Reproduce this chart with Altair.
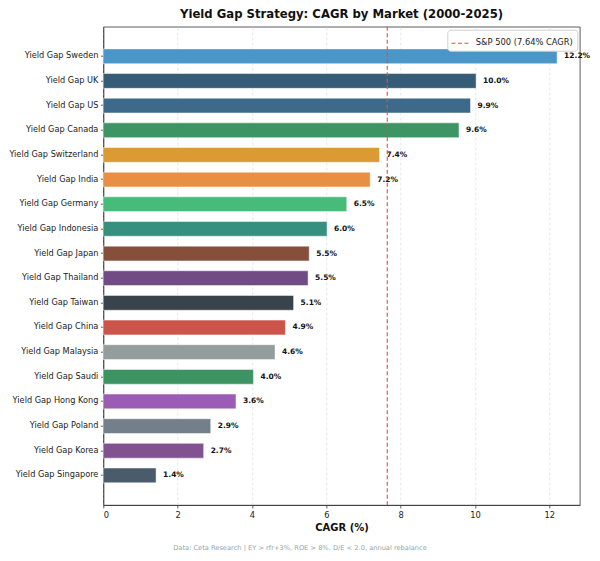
import altair as alt
import pandas as pd

markets = ["Yield Gap Sweden", "Yield Gap UK", "Yield Gap US", "Yield Gap Canada",
           "Yield Gap Switzerland", "Yield Gap India", "Yield Gap Germany",
           "Yield Gap Indonesia", "Yield Gap Japan", "Yield Gap Thailand",
           "Yield Gap Taiwan", "Yield Gap China", "Yield Gap Malaysia",
           "Yield Gap Saudi", "Yield Gap Hong Kong", "Yield Gap Poland",
           "Yield Gap Korea", "Yield Gap Singapore"]
cagr = [12.21, 10.03, 9.88, 9.57, 7.43, 7.18, 6.55, 6.02, 5.54, 5.51,
        5.12, 4.90, 4.62, 4.04, 3.57, 2.89, 2.70, 1.42]
colors = ["#4a96c8", "#365d78", "#3d6a8a", "#3d9464", "#dc9a34", "#e98f44",
          "#47bb79", "#368f7f", "#854f3c", "#714c84", "#39434b", "#cb554b",
          "#929d9c", "#3d9463", "#9b5cb5", "#737f8a", "#815190", "#4a5b6c"]
sp500 = 7.64
sp_label = "S&P 500 (7.64% CAGR)"
title_text = "Yield Gap Strategy: CAGR by Market (2000-2025)"
x_title = "CAGR (%)"
footer_text = "Data: Ceta Research | EY > rfr+3%, ROE > 8%, D/E < 2.0, annual rebalance"
x_ticks = [0, 2, 4, 6, 8, 10, 12]
x_max = 12.82

df = pd.DataFrame({
    "market": markets,
    "cagr": cagr,
    "label": [f"{v:.1f}%" for v in cagr],
})
sp_df = pd.DataFrame({"sp": [sp500], "name": [sp_label]})
foot_df = pd.DataFrame({"t": [footer_text]})

W = 476.5
H = 478.3
PAD_L = 95.3

xscale = alt.Scale(domain=[0, x_max], nice=False, zero=True)
yenc = alt.Y("market:N", sort=markets, title=None,
             scale=alt.Scale(paddingInner=0.4, paddingOuter=0.9),
             axis=alt.Axis(labelFontSize=8.2, labelColor="#222", tickSize=2.9,
                           tickColor="#333", domainColor="#333", labelPadding=2.5,
                           domainWidth=0.8, tickWidth=0.8, grid=False))

bars = alt.Chart(df).mark_bar(stroke="white", strokeWidth=0.6, strokeOpacity=0.8).encode(
    x=alt.X("cagr:Q", scale=xscale, title=x_title,
            axis=alt.Axis(values=x_ticks, format="d", labelFontSize=8.33, labelColor="#222",
                          tickSize=2.9, tickColor="#333", domainColor="#333",
                          domainWidth=0.8, tickWidth=0.8, labelPadding=2.5,
                          titleFontSize=10, titleFontWeight="bold", titleColor="#111",
                          titlePadding=4, grid=True, gridColor="#dcdcdc",
                          gridDash=[3, 2], gridWidth=0.7)),
    y=yenc,
    fill=alt.Fill("market:N", scale=alt.Scale(domain=markets, range=colors), legend=None),
)

labels = alt.Chart(df).mark_text(align="left", baseline="middle", dx=7,
                                 fontSize=7.5, fontWeight="bold", color="#111").encode(
    x=alt.X("cagr:Q", scale=xscale),
    y=alt.Y("market:N", sort=markets),
    text="label:N",
)

rule = alt.Chart(sp_df).mark_rule(strokeDash=[4, 2.5], strokeWidth=1.1).encode(
    x=alt.X("sp:Q", scale=xscale),
    stroke=alt.Stroke("name:N", scale=alt.Scale(domain=[sp_label], range=["#e74c3c"]),
                      legend=alt.Legend(title=None, orient="top-right", offset=3,
                                        symbolType="stroke", symbolDash=[4, 2.5],
                                        symbolStrokeWidth=1.1, symbolSize=350,
                                        labelFontSize=8.33, labelColor="#222",
                                        labelOffset=5, padding=3.5, cornerRadius=3,
                                        strokeColor="#d0d0d0", fillColor="white")),
)

footer = alt.Chart(foot_df).mark_text(fontSize=6.67, color="#95a5a6", align="center",
                                      baseline="middle").encode(
    x=alt.value(300 - 8 - PAD_L), y=alt.value(521.8), text="t:N")

chart = alt.layer(bars, labels, rule, footer).properties(
    width=W, height=H,
    title=alt.Title(title_text, fontSize=11.67, fontWeight="bold", color="#111",
                    anchor="middle", offset=5),
    autosize=alt.AutoSizeParams(type="none"),
    padding={"left": PAD_L, "top": 18.7, "right": 12, "bottom": 46},
).configure(font="DejaVu Sans").configure_view(stroke="#333", strokeWidth=0.8)

chart.save("out.html", embed_options={"renderer": "svg", "actions": False})
